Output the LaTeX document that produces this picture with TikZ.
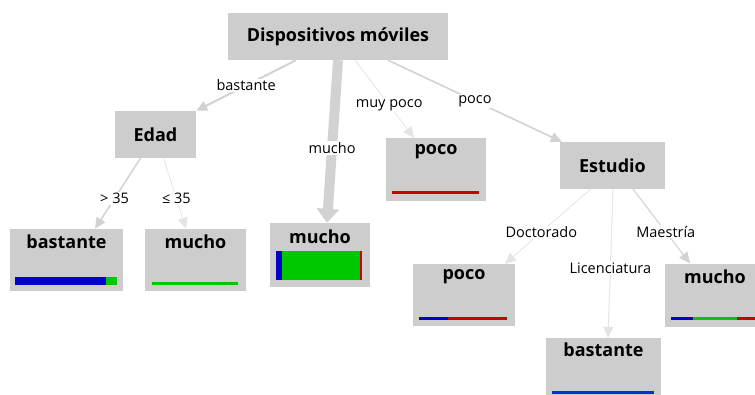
\documentclass[tikz,border=0pt]{standalone}
\usepackage{fontspec}
\setmainfont{Open Sans}
\usetikzlibrary{arrows.meta}
\definecolor{boxgray}{RGB}{205,205,205}
\definecolor{edgegray}{RGB}{210,210,210}
\definecolor{faintgray}{RGB}{228,228,228}
\definecolor{clsblue}{RGB}{0,0,200}
\definecolor{clsgreen}{RGB}{0,200,0}
\definecolor{clsred}{RGB}{200,0,0}
\tikzset{
  split/.style={fill=boxgray, minimum height=47pt, font=\fontsize{18}{21}\selectfont\bfseries},
  leaf/.style={fill=boxgray, minimum height=62pt, minimum width=100pt},
  leaflabel/.style={font=\fontsize{18}{21}\selectfont\bfseries},
  elabel/.style={fill=white, inner sep=1pt, font=\fontsize{14.5}{16}\selectfont},
  edge/.style={draw=edgegray, -{Triangle[length=11pt,width=10pt]}},
}
\begin{document}
\begin{tikzpicture}[x=1pt,y=1pt]
  \useasboundingbox (0,0) rectangle (755,394);
  \clip (0,0) rectangle (755,394);
  \node[split, minimum width=220pt] (root) at (338,357.5) {Dispositivos móviles};
  \node[split, minimum width=81pt] (edad) at (155.5,259.5) {Edad};
  \node[split, minimum width=105pt] (estudio) at (612.5,228.5) {Estudio};
  \node[leaf, minimum width=113pt] (l1) at (66.5,134) {};
  \node[leaf, minimum width=101pt] (l2) at (195.5,134) {};
  \node[leaf, minimum height=64pt] (l3) at (320,139) {};
  \node[leaf, minimum height=63pt] (l4) at (436,224.5) {};
  \node[leaf, minimum width=102pt] (l5) at (464,99) {};
  \node[leaf, minimum height=63pt] (l6) at (715,99) {};
  \node[leaf, minimum width=115pt] (l7) at (603.5,25) {};
  \node[leaflabel] (t1) at ([yshift=-13pt]l1.north) {bastante};
  \node[leaflabel] (t2) at ([yshift=-13pt]l2.north) {mucho};
  \node[leaflabel] (t3) at ([yshift=-14pt]l3.north) {mucho};
  \node[leaflabel] (t4) at ([yshift=-14pt]l4.north) {poco};
  \node[leaflabel] (t5) at ([yshift=-13pt]l5.north) {poco};
  \node[leaflabel] (t6) at ([yshift=-13pt]l6.north) {mucho};
  \node[leaflabel] (t7) at ([yshift=-12pt]l7.north) {bastante};
  \begin{scope}
    \fill[clsblue] (15,109) rectangle (106,117);
    \fill[clsgreen] (106,109) rectangle (117,117);
    \fill[clsgreen] (152,109) rectangle (238,112);
    \fill[clsblue] (276,114) rectangle (282,143);
    \fill[clsgreen] (282,114) rectangle (360,143);
    \fill[clsred] (360,114) rectangle (362,143);
    \fill[clsred] (392,200) rectangle (479,203);
    \fill[clsblue] (419,74) rectangle (448,77);
    \fill[clsred] (448,74) rectangle (507,77);
    \fill[clsblue] (671,74) rectangle (693,77);
    \fill[clsgreen] (693,74) rectangle (737,77);
    \fill[clsred] (737,74) rectangle (760,77);
    \fill[clsblue!80!cyan] (552,0) rectangle (654,3);
  \end{scope}
  \begin{scope}[edge]
    \draw[line width=2pt] ([xshift=-42pt]root.south) -- (edad.north east)
      node[elabel, pos=0.5] (e1) {bastante};
    \draw[line width=10pt, -{Triangle[length=14pt,width=22pt]}] (root.south) -- ([xshift=7pt]l3.north)
      node[elabel, pos=0.54] (e2) {mucho};
    \draw[draw=faintgray, line width=0.8pt] ([xshift=17pt]root.south) -- ([xshift=-22pt]l4.north)
      node[elabel, pos=0.58] (e3) {muy poco};
    \draw[line width=1.6pt] ([xshift=50pt]root.south) -- ([xshift=2pt]estudio.north west)
      node[elabel, pos=0.5] (e4) {poco};
    \draw[line width=1.5pt] ([xshift=-15pt]edad.south) -- ([xshift=28.5pt]l1.north)
      node[elabel, pos=0.57] (e5) {> 35};
    \draw[draw=faintgray, line width=0.8pt] ([xshift=8pt]edad.south) -- ([xshift=-9.5pt]l2.north)
      node[elabel, pos=0.57] (e6) {≤ 35};
    \draw[draw=faintgray, line width=0.8pt] ([xshift=-22pt]estudio.south) -- ([xshift=41pt]l5.north)
      node[elabel, pos=0.575] (e7) {Doctorado};
    \draw[draw=faintgray, line width=1pt] ([xshift=0.5pt]estudio.south) -- ([xshift=4.5pt]l7.north)
      node[elabel, pos=0.53] (e8) {Licenciatura};
    \draw[line width=1.1pt] ([xshift=20.5pt]estudio.south) -- ([xshift=-25pt]l6.north)
      node[elabel, pos=0.575] (e9) {Maestría};
  \end{scope}
\end{tikzpicture}
\end{document}
